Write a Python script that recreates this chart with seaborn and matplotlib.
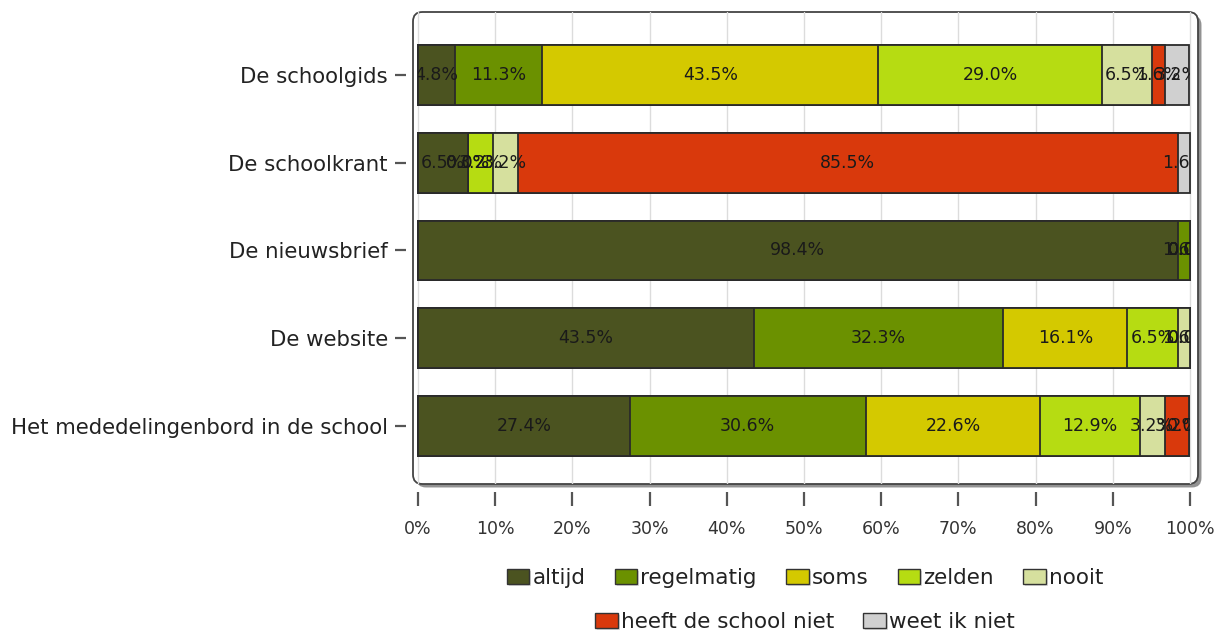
import numpy as np
import pandas as pd
import matplotlib
matplotlib.use("Agg")
import matplotlib.pyplot as plt
import matplotlib.patheffects as pe
from matplotlib.patches import FancyBboxPatch, Patch
from matplotlib.transforms import Bbox, TransformedBbox
import seaborn as sns

categories = ["De schoolgids", "De schoolkrant", "De nieuwsbrief", "De website",
              "Het mededelingenbord in de school"]
series_names = ["altijd", "regelmatig", "soms", "zelden", "nooit",
                "heeft de school niet", "weet ik niet"]
altijd = [4.8, 6.5, 98.4, 43.5, 27.4]
regelmatig = [11.3, 0.0, 1.6, 32.3, 30.6]
soms = [43.5, 0.0, 0.0, 16.1, 22.6]
zelden = [29.0, 3.2, 0.0, 6.5, 12.9]
nooit = [6.5, 3.2, 0.0, 1.6, 3.2]
heeft = [1.6, 85.5, 0.0, 0.0, 3.2]
weet = [3.2, 1.6, 0.0, 0.0, 0.0]
colors = ["#4b5320", "#6b9100", "#d4c900", "#b6dc12", "#d6e09e", "#d9390c", "#d0d0d0"]
xticks = [0, 10, 20, 30, 40, 50, 60, 70, 80, 90, 100]
xticklabels = [f"{t}%" for t in xticks]

sns.set_style("white")
plt.rcParams['font.family'] = ['DejaVu Sans']

values = [altijd, regelmatig, soms, zelden, nooit, heeft, weet]
df = pd.DataFrame({name: vals for name, vals in zip(series_names, values)}, index=categories)
cum = df.cumsum(axis=1)

fig = plt.figure(figsize=(12.2, 6.35), dpi=100)
ax = fig.add_axes([413/1220, 1 - 484/635, (1198 - 413)/1220, (484 - 12)/635])

# frame with shadow
frame = FancyBboxPatch((0, 0), 1, 1, boxstyle="round,pad=0,rounding_size=0.012",
                       mutation_aspect=785/472,
                       transform=ax.transAxes, facecolor="white", edgecolor="#444444",
                       linewidth=1.3, clip_on=False, zorder=0.5,
                       path_effects=[pe.SimplePatchShadow(offset=(2.5, -2.5), shadow_rgbFace="#777777", alpha=0.8),
                                     pe.Normal()])
ax.add_patch(frame)
ax.patch.set_visible(False)

for t in xticks:
    ax.axvline(t, color="#dcdcdc", linewidth=1.0, zorder=0.8)

# stacked bars: draw cumulative totals from last to first
for i in range(len(series_names) - 1, -1, -1):
    name = series_names[i]
    d = pd.DataFrame({"cat": categories, "val": cum[name].values})
    sns.barplot(data=d, x="val", y="cat", orient="h", color=colors[i], saturation=1,
                width=0.68, edgecolor="#2a2a2a", linewidth=1.3, errorbar=None, ax=ax, zorder=2)

ax.set_xlim(-5/7.72, 100 + 8/7.72)
ax.set_ylim(4 + 58/88, -63/88)

clipbox = TransformedBbox(Bbox([[0, -2], [100, 6]]), ax.transData)
for i, name in enumerate(series_names):
    prev = cum[name].values - df[name].values
    for j, cat in enumerate(categories):
        v = df[name].values[j]
        tx = ax.text(prev[j] + v / 2, j, f"{v:.1f}%", ha="center", va="center",
                     fontsize=12.5, color="#1a1a1a", zorder=5)
        tx.set_clip_box(clipbox)
        tx.set_clip_on(True)

for s in ax.spines.values():
    s.set_visible(False)
ax.spines['bottom'].set_position(('outward', 6))
ax.spines['left'].set_position(('outward', 5))
ax.set_xticks(xticks)
ax.set_xticklabels(xticklabels)
ax.tick_params(axis="x", bottom=True, length=10, width=1.6, color="#555555",
               labelsize=12.5, pad=10, labelcolor="#333333")
ax.tick_params(axis="y", left=True, length=8, width=1.6, color="#555555",
               labelsize=15.3, pad=5, labelcolor="#222222")
ax.set_xlabel("")
ax.set_ylabel("")

handles = [Patch(facecolor=c, edgecolor="#333333", linewidth=1.0,
                 path_effects=[pe.SimplePatchShadow(offset=(1.5, -1.5), shadow_rgbFace="#888888"), pe.Normal()])
           for c in colors]
leg_kw = dict(frameon=False, fontsize=15.5, handlelength=1.05, handleheight=0.65,
              handletextpad=0.15, columnspacing=1.35, loc="center", labelcolor="#222222")
fig.legend(handles[:5], series_names[:5], ncol=5,
           bbox_to_anchor=(805/1220, 1 - 578/635), **leg_kw)
fig.legend(handles[5:], series_names[5:], ncol=2,
           bbox_to_anchor=(805/1220, 1 - 622/635), **leg_kw)

fig.savefig("out.png", dpi=100)
